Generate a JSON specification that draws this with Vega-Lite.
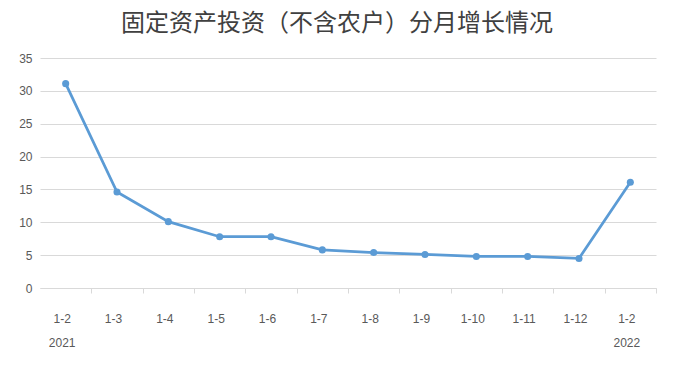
{
  "$schema": "https://vega.github.io/schema/vega-lite/v6.json",
  "width": 616,
  "height": 230,
  "autosize": {"type": "none"},
  "padding": {"left": 40, "top": 58, "right": 18, "bottom": 78},
  "background": "white",
  "title": {
    "text": "固定资产投资（不含农户）分月增长情况",
    "font": "Noto Sans CJK SC",
    "fontSize": 24,
    "fontWeight": "normal",
    "color": "#404040",
    "anchor": "middle",
    "dx": -11,
    "offset": 16
  },
  "data": {
    "values": [
      {"period": "2021-1-2", "value": 31.1},
      {"period": "2021-1-3", "value": 14.6},
      {"period": "2021-1-4", "value": 10.1},
      {"period": "2021-1-5", "value": 7.8},
      {"period": "2021-1-6", "value": 7.8},
      {"period": "2021-1-7", "value": 5.8},
      {"period": "2021-1-8", "value": 5.4},
      {"period": "2021-1-9", "value": 5.1},
      {"period": "2021-1-10", "value": 4.8},
      {"period": "2021-1-11", "value": 4.8},
      {"period": "2021-1-12", "value": 4.5},
      {"period": "2022-1-2", "value": 16.1}
    ]
  },
  "mark": {
    "type": "line",
    "color": "#5b9bd5",
    "strokeWidth": 2.75,
    "point": {"filled": true, "size": 50, "color": "#5b9bd5"}
  },
  "encoding": {
    "x": {
      "field": "period",
      "type": "ordinal",
      "sort": null,
      "scale": {"type": "band", "paddingInner": 0, "paddingOuter": 0},
      "axis": {
        "title": null,
        "labelAngle": 0,
        "labelExpr": "datum.value == '2021-1-2' ? ['1-2', '2021'] : (datum.value == '2022-1-2' ? ['1-2', '2022'] : slice(datum.value, 5))",
        "labelOffset": -29.67,
        "tickOffset": 25.67,
        "labelFont": "Liberation Sans",
        "labelFontSize": 12,
        "labelColor": "#595959",
        "labelPadding": 20,
        "labelLineHeight": 24,
        "tickColor": "#d9d9d9",
        "tickSize": 5,
        "domainColor": "#d9d9d9",
        "grid": false
      }
    },
    "y": {
      "field": "value",
      "type": "quantitative",
      "scale": {"domain": [0, 35], "nice": false},
      "axis": {
        "title": null,
        "values": [0, 5, 10, 15, 20, 25, 30, 35],
        "domain": false,
        "ticks": false,
        "labelFont": "Liberation Sans",
        "labelFontSize": 12,
        "labelColor": "#595959",
        "labelPadding": 8,
        "gridColor": "#d9d9d9",
        "gridWidth": 1
      }
    }
  },
  "config": {"view": {"stroke": null}}
}
